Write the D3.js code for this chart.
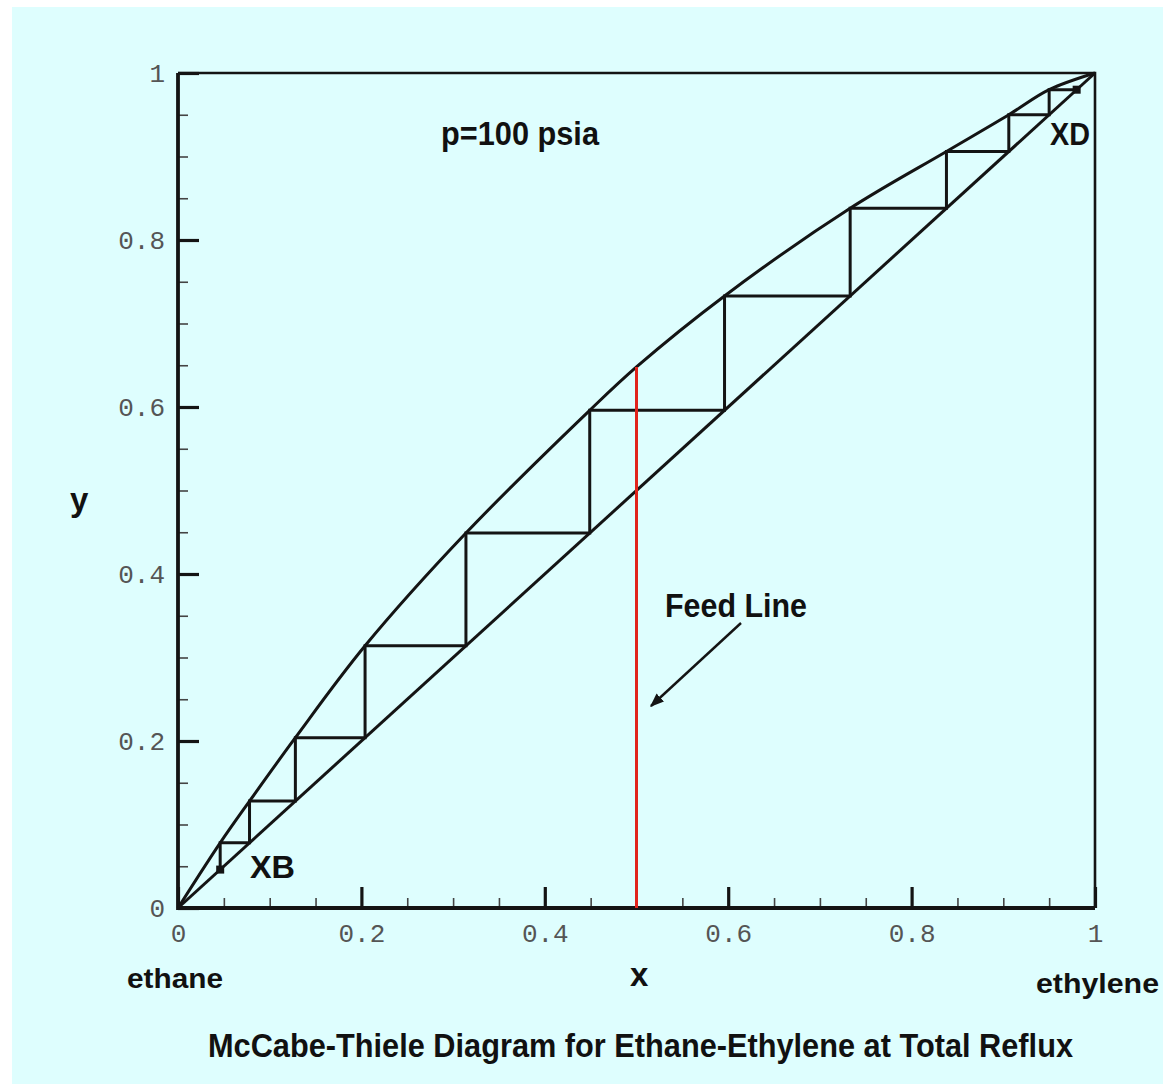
<!DOCTYPE html>
<html>
<head>
<meta charset="utf-8">
<script src="https://cdn.jsdelivr.net/npm/d3@7/dist/d3.min.js"></script>
<style>
  html, body { margin: 0; padding: 0; background: #ffffff; }
  svg { display: block; }
</style>
</head>
<body>
<svg id="chart" width="1163" height="1084"></svg>
<script>
// Equilibrium curve for ethane-ethylene at 100 psia (x = liquid, y = vapour mole fraction of ethylene)
const eqX = [0, 0.046, 0.078, 0.128, 0.204, 0.314, 0.449, 0.500, 0.596, 0.733, 0.838, 0.906, 0.950, 1];
const eqY = [0, 0.078, 0.128, 0.204, 0.314, 0.449, 0.596, 0.648, 0.733, 0.838, 0.906, 0.950, 0.980, 1];

// Liquid compositions leaving each stage, stepping down from the distillate
const stageX = [0.98, 0.950, 0.906, 0.838, 0.733, 0.596, 0.449, 0.314, 0.204, 0.128, 0.078, 0.046];

const xD = 0.98;
const xB = 0.046;
const feedX = 0.5;
const feedTopY = 0.648;

const majorTicks = [0, 0.2, 0.4, 0.6, 0.8, 1];
const majorLabels = ["0", "0.2", "0.4", "0.6", "0.8", "1"];

const svg = d3.select("#chart");
const W = 1163, H = 1084;

// background (white strip along the top and left edges)
svg.append("rect").attr("width", W).attr("height", H).attr("fill", "#ffffff");
svg.append("rect").attr("x", 12).attr("y", 7).attr("width", W - 12).attr("height", H - 7).attr("fill", "#defefe");

const pL = 178, pR = 1095, pT = 73, pB = 908;
const x = d3.scaleLinear().domain([0, 1]).range([pL, pR]);
const y = d3.scaleLinear().domain([0, 1]).range([pB, pT]);

const ink = "#141414";
const lw = 3;

// minor ticks
const minorVals = x.ticks(25).filter(v => !majorTicks.some(m => Math.abs(m - v) < 1e-9));
svg.append("g").attr("transform", `translate(0,${pB})`)
  .call(d3.axisBottom(x).tickValues(minorVals).tickSize(-10).tickFormat(""))
  .call(g => g.select(".domain").remove())
  .call(g => g.selectAll("line").attr("stroke", "#444").attr("stroke-width", 1.6));
svg.append("g").attr("transform", `translate(${pL},0)`)
  .call(d3.axisLeft(y).tickValues(minorVals).tickSize(-10).tickFormat(""))
  .call(g => g.select(".domain").remove())
  .call(g => g.selectAll("line").attr("stroke", "#444").attr("stroke-width", 1.6));

// frame (top and right)
svg.append("path")
  .attr("d", `M${pL},${pT}H${pR}V${pB}`)
  .attr("fill", "none").attr("stroke", ink).attr("stroke-width", 2.6);

// major ticks and labels
const fmt = d => majorLabels[majorTicks.indexOf(d)];
svg.append("g").attr("transform", `translate(0,${pB})`)
  .call(d3.axisBottom(x).tickValues(majorTicks).tickSize(-21).tickPadding(16).tickFormat(fmt))
  .call(g => g.select(".domain").remove())
  .call(g => g.selectAll("line").attr("stroke", ink).attr("stroke-width", 3.2))
  .call(g => g.selectAll("text").attr("font-family", "Liberation Mono, monospace")
      .attr("font-size", 26).attr("fill", "#555"));
svg.append("g").attr("transform", `translate(${pL},0)`)
  .call(d3.axisLeft(y).tickValues(majorTicks).tickSize(-21).tickPadding(13).tickFormat(fmt))
  .call(g => g.select(".domain").remove())
  .call(g => g.selectAll("line").attr("stroke", ink).attr("stroke-width", 3.2))
  .call(g => g.selectAll("text").attr("font-family", "Liberation Mono, monospace")
      .attr("font-size", 26).attr("fill", "#555"));

// left and bottom axis lines
svg.append("path")
  .attr("d", `M${pL},${pT}V${pB}H${pR}`)
  .attr("fill", "none").attr("stroke", ink).attr("stroke-width", 3.8);

// operating line at total reflux (y = x)
svg.append("line")
  .attr("x1", x(0)).attr("y1", y(0)).attr("x2", x(1)).attr("y2", y(1))
  .attr("stroke", ink).attr("stroke-width", lw);

// equilibrium curve
const eqPts = eqX.map((v, i) => [v, eqY[i]]);
svg.append("path")
  .datum(eqPts)
  .attr("d", d3.line().x(d => x(d[0])).y(d => y(d[1])).curve(d3.curveCatmullRom.alpha(0.5)))
  .attr("fill", "none").attr("stroke", ink).attr("stroke-width", lw);

// stage steps
let stepD = `M${x(stageX[0])},${y(stageX[0])}`;
for (let i = 1; i < stageX.length; i++) {
  stepD += `H${x(stageX[i])}V${y(stageX[i])}`;
}
svg.append("path").attr("d", stepD)
  .attr("fill", "none").attr("stroke", ink).attr("stroke-width", lw);

// feed line
svg.append("line")
  .attr("x1", x(feedX)).attr("y1", y(0)).attr("x2", x(feedX)).attr("y2", y(feedTopY))
  .attr("stroke", "#e0241c").attr("stroke-width", 3);

// end-point markers
[[xB, xB], [xD, xD]].forEach(p => {
  svg.append("rect")
    .attr("x", x(p[0]) - 4).attr("y", y(p[1]) - 4)
    .attr("width", 8).attr("height", 8).attr("fill", ink);
});

// arrow pointing at the feed line
svg.append("defs").append("marker")
  .attr("id", "arrowhead").attr("viewBox", "0 0 10 10")
  .attr("refX", 9).attr("refY", 5)
  .attr("markerWidth", 14).attr("markerHeight", 11)
  .attr("markerUnits", "userSpaceOnUse")
  .attr("orient", "auto")
  .attr("preserveAspectRatio", "none")
  .append("path").attr("d", "M0,0L10,5L0,10Z").attr("fill", ink);
svg.append("line")
  .attr("x1", 741).attr("y1", 623).attr("x2", 651).attr("y2", 706)
  .attr("stroke", ink).attr("stroke-width", 2.4)
  .attr("marker-end", "url(#arrowhead)");

// text
function label(txt, cx, base, size, width, anchor) {
  const t = svg.append("text")
    .attr("x", cx).attr("y", base)
    .attr("text-anchor", anchor || "start")
    .attr("font-family", "Liberation Sans, Arial, sans-serif")
    .attr("font-weight", "bold")
    .attr("font-size", size)
    .attr("fill", "#111")
    .text(txt);
  if (width) t.attr("textLength", width).attr("lengthAdjust", "spacingAndGlyphs");
  return t;
}

label("p=100 psia", 441, 145, 33, 158);
label("Feed Line", 665, 617, 34, 142);
label("XB", 250, 878, 31, 45);
label("XD", 1050, 145, 31, 40);
label("y", 70, 511, 33, null);
label("x", 630, 986, 33, null);
label("ethane", 127, 988, 28, 96);
label("ethylene", 1036, 993, 28, 123);
label("McCabe-Thiele Diagram for Ethane-Ethylene at Total Reflux", 208, 1057, 33, 865);
</script>
</body>
</html>
